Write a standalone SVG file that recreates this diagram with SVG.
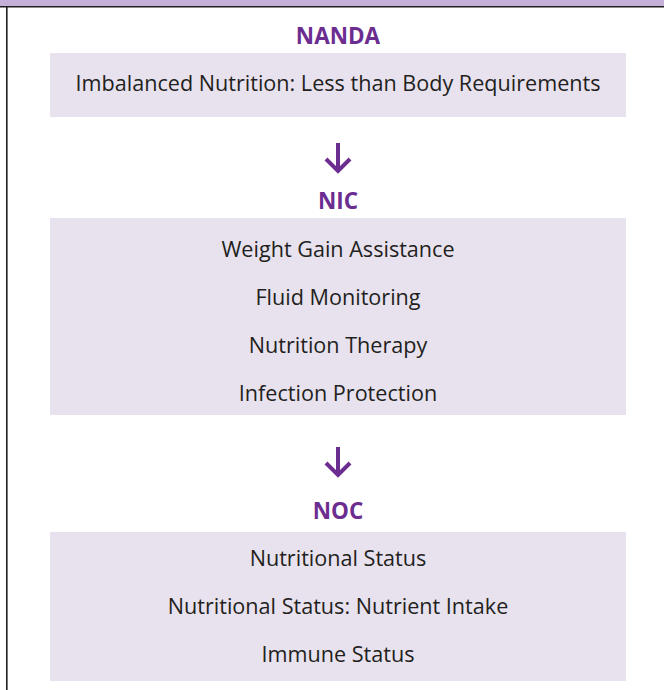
<svg xmlns="http://www.w3.org/2000/svg" width="664" height="690" viewBox="0 0 664 690">
  <style>
    .band { fill: #c5b1d7; }
    .frame { stroke: #231f20; stroke-width: 1.6; fill: none; }
    .box { fill: #e8e2ef; }
    .head { font-family: "Open Sans", "Noto Sans", "Liberation Sans", sans-serif; font-weight: 700; font-size: 22.5px; fill: #6c2d91; text-anchor: middle; }
    .item { font-family: "Open Sans", "Noto Sans", "Liberation Sans", sans-serif; font-size: 21.6px; fill: #231f20; text-anchor: middle; }
    .arrow { stroke: #6c2d91; stroke-width: 4; fill: none; stroke-linecap: butt; stroke-linejoin: miter; }
  </style>

  <!-- header band and frame -->
  <rect class="band" x="0" y="0" width="664" height="6"/>
  <path class="frame" d="M0 6.8 H664 M6.8 6 V690"/>

  <!-- NANDA -->
  <g id="nanda">
    <text class="head" x="338" y="44">NANDA</text>
    <rect class="box" x="50" y="53" width="576" height="64"/>
    <text class="item" x="338" y="91">Imbalanced Nutrition: Less than Body Requirements</text>
  </g>

  <!-- NIC -->
  <g id="nic">
    <text class="head" x="338" y="209">NIC</text>
    <rect class="box" x="50" y="218" width="576" height="197"/>
    <text class="item" x="338" y="257">Weight Gain Assistance</text>
    <text class="item" x="338" y="305">Fluid Monitoring</text>
    <text class="item" x="338" y="353">Nutrition Therapy</text>
    <text class="item" x="338" y="401">Infection Protection</text>
  </g>

  <!-- NOC -->
  <g id="noc">
    <text class="head" x="338" y="519">NOC</text>
    <rect class="box" x="50" y="532" width="576" height="149"/>
    <text class="item" x="338" y="566">Nutritional Status</text>
    <text class="item" x="338" y="614">Nutritional Status: Nutrient Intake</text>
    <text class="item" x="338" y="662">Immune Status</text>
  </g>

  <!-- connectors -->
  <g id="connectors">
    <path class="arrow" d="M338 143 V172 M326 159 L338 171 L350 159"/>
    <path class="arrow" d="M338 447 V476 M326 463 L338 475 L350 463"/>
  </g>
</svg>
